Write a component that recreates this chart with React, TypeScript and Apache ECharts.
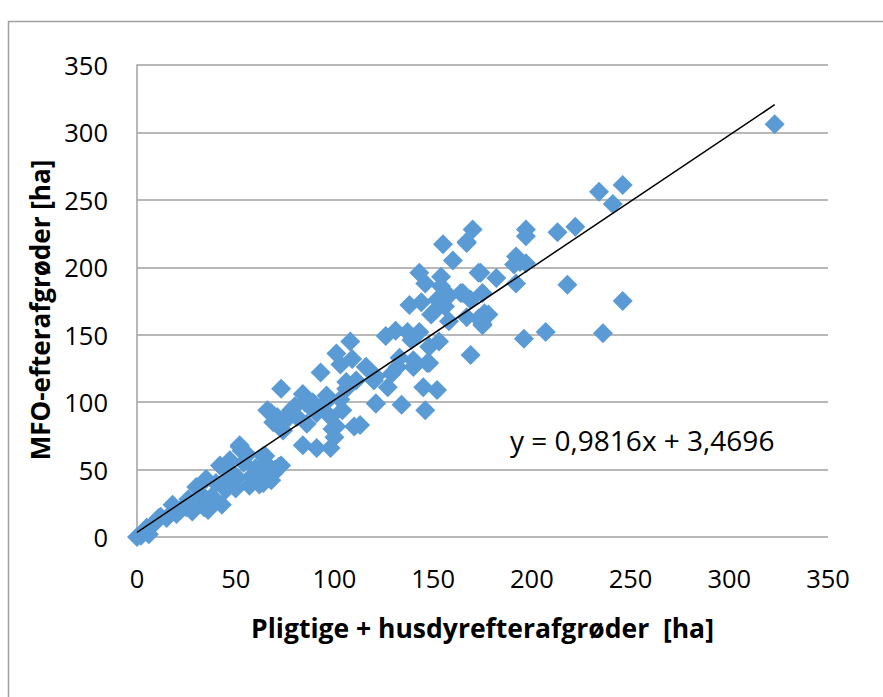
import React, { useEffect, useRef } from "react";
import * as echarts from "echarts";

// Pligtige + husdyrefterafgrøder [ha] (x) vs MFO-efterafgrøder [ha] (y)
const lowCluster: [number, number][] = [
  [0, 0], [2, 1], [4, 4], [6, 2], [5, 7], [8, 9], [10, 12], [12, 15], [11, 14], [18, 24],
  [22, 20], [25, 22], [28, 19], [30, 37], [31, 25], [33, 31], [35, 43], [36, 20], [38, 30],
  [40, 40], [43, 24], [42, 53], [46, 44], [47, 57], [50, 36], [51, 44], [52, 67], [54, 55],
  [56, 61], [57, 38], [60, 51], [62, 39], [63, 50], [65, 60], [68, 42], [70, 50], [72, 52],
  [73, 53], [69, 47], [64, 40], [58, 45], [45, 35], [37, 27], [34, 22], [26, 28], [20, 17],
  [15, 14], [48, 48], [53, 64],
];
const midCluster: [number, number][] = [
  [108, 145], [101, 136], [109, 132], [103, 128], [93, 122], [116, 126], [121, 119], [111, 116],
  [73, 110], [84, 106], [96, 105], [106, 110], [89, 100], [103, 102], [66, 94], [71, 89],
  [78, 94], [81, 89], [86, 84], [91, 92], [98, 89], [101, 82], [110, 82], [121, 99], [74, 79],
  [84, 68], [91, 66], [98, 66], [69, 85], [64, 60], [52, 68], [65, 55], [72, 52], [76, 90],
  [68, 92], [80, 97], [75, 86], [85, 100], [88, 96], [95, 99], [104, 94], [100, 74], [106, 115],
  [99, 80],
];
const upperCluster: [number, number][] = [
  [155, 217], [167, 218], [160, 205], [143, 196], [146, 188], [154, 193], [154, 186], [173, 196],
  [182, 192], [138, 172], [144, 174], [158, 179], [164, 181], [151, 168], [149, 165], [158, 160],
  [167, 163], [173, 162], [178, 165], [175, 157], [126, 149], [131, 153], [137, 152], [143, 152],
  [139, 146], [153, 145], [148, 141], [169, 135], [116, 126], [133, 133], [132, 126], [140, 126],
  [148, 129], [120, 116], [129, 121], [127, 111], [145, 111], [152, 109], [121, 99], [134, 98],
  [146, 94], [113, 83], [170, 228], [167, 219], [165, 181], [169, 176], [175, 181], [140, 131],
  [147, 129], [152, 176], [156, 171],
];
const rightCluster: [number, number][] = [
  [234, 256], [246, 261], [241, 247], [197, 228], [197, 223], [213, 226], [222, 230], [192, 208],
  [194, 204], [191, 202], [197, 203], [192, 188], [174, 196], [218, 187], [246, 175], [176, 166],
  [175, 158], [196, 147], [207, 152], [236, 151], [323, 306],
];

const trendSlope = 0.9816;
const trendIntercept = 3.4696;
const axisTicks = [0, 50, 100, 150, 200, 250, 300, 350];
const xTitle = "Pligtige + husdyrefterafgrøder  [ha]";
const yTitle = "MFO-efterafgrøder [ha]";

const FONT = "'Open Sans', 'Liberation Sans', sans-serif";

export default function App() {
  const ref = useRef<HTMLDivElement>(null);
  useEffect(() => {
    if (!ref.current) return;
    const chart = echarts.init(ref.current, undefined, { renderer: "svg" });
    const points = [...lowCluster, ...midCluster, ...upperCluster, ...rightCluster];
    const xs = points.map((p) => p[0]);
    const xMin = Math.min(...xs);
    const xMax = Math.max(...xs);
    const trend = [
      [xMin, trendSlope * xMin + trendIntercept],
      [xMax, trendSlope * xMax + trendIntercept],
    ];
    const fmt = (v: number) => v.toFixed(4).replace(".", ",");
    const eqText = `y = ${fmt(trendSlope)}x + ${fmt(trendIntercept)}`;
    const step = axisTicks[1] - axisTicks[0];
    chart.setOption({
      animation: false,
      backgroundColor: "#ffffff",
      grid: { left: 137, right: 55, top: 65, bottom: 160, containLabel: false },
      xAxis: {
        type: "value",
        min: axisTicks[0],
        max: axisTicks[axisTicks.length - 1],
        interval: step,
        name: xTitle,
        nameLocation: "middle",
        nameGap: 77,
        nameTextStyle: { fontFamily: FONT, fontSize: 26.5, fontWeight: "bold", color: "#000" },
        axisLine: { show: false },
        axisTick: { show: false },
        splitLine: { show: false },
        axisLabel: { fontFamily: FONT, fontSize: 25.5, color: "#000", margin: 28 },
      },
      yAxis: {
        type: "value",
        min: axisTicks[0],
        max: axisTicks[axisTicks.length - 1],
        interval: step,
        name: yTitle,
        nameLocation: "middle",
        nameGap: 82,
        nameTextStyle: {
          fontFamily: FONT,
          fontSize: 26,
          fontWeight: "bold",
          color: "#000",
          padding: [0, 18, 0, 0],
        },
        axisLine: { show: true, lineStyle: { color: "#a0a0a0", width: 1.5 } },
        axisTick: { show: false },
        splitLine: { show: true, lineStyle: { color: "#a0a0a0", width: 1.5 } },
        axisLabel: { fontFamily: FONT, fontSize: 25.5, color: "#000", margin: 29 },
      },
      graphic: [
        {
          type: "rect",
          shape: { x: 8.5, y: 21.5, width: 1000, height: 1000 },
          style: { fill: "none", stroke: "#a0a0a0", lineWidth: 1.5 },
          silent: true,
          z: -1,
        },
        {
          type: "text",
          left: 510,
          top: 426,
          style: { text: eqText, fontFamily: FONT, fontSize: 28, fill: "#000" },
        },
      ],
      series: [
        {
          type: "scatter",
          data: points,
          symbol: "diamond",
          symbolSize: 20,
          itemStyle: { color: "#5B9BD5", opacity: 1 },
          z: 2,
        },
        {
          type: "line",
          data: trend,
          symbol: "none",
          lineStyle: { color: "#000", width: 1.5 },
          z: 3,
        },
      ],
    });
    return () => chart.dispose();
  }, []);
  return (
    <div
      ref={ref}
      style={{ position: "fixed", left: 0, top: 0, width: 883, height: 697, background: "#fff" }}
    />
  );
}
